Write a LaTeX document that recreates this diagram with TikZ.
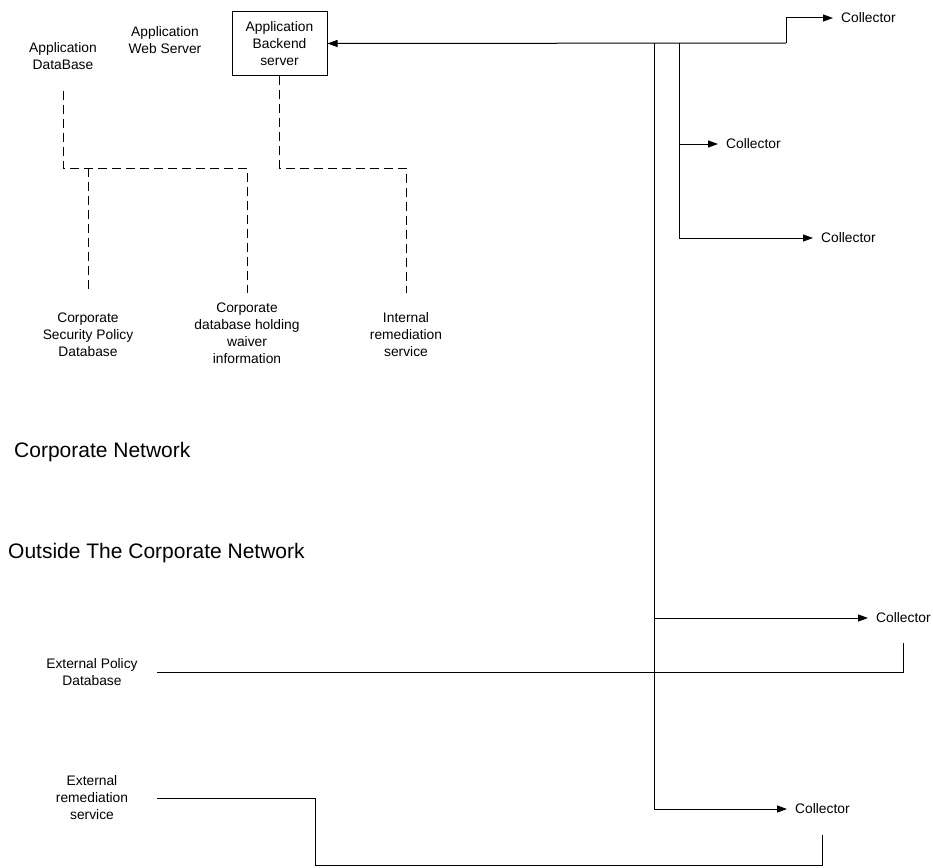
\documentclass[tikz,border=0pt]{standalone}
\usepackage{fontspec}
\setmainfont{Liberation Sans}
\usetikzlibrary{arrows.meta}

\begin{document}
\begin{tikzpicture}[x=1pt,y=-1pt,
  lbl/.style={align=center,inner sep=0pt,font=\fontsize{13.8}{17}\selectfont},
  col/.style={lbl,anchor=west},
  zone/.style={anchor=west,inner sep=0pt,font=\fontsize{21}{25}\selectfont},
  link/.style={line width=1pt},
  dblink/.style={link,dash pattern=on 9pt off 5pt},
  feed/.style={link,-{Triangle[length=10pt,width=7pt]}},
  tocol/.style={feed,shorten >=8pt}]
\useasboundingbox (0,0) rectangle (933,867);
% corporate side
\node[lbl] at (63,56) (appdb) {Application\\DataBase};
\node[lbl] at (165,40) (websrv) {Application\\Web Server};
\node[lbl,draw,line width=1pt,minimum width=95pt,minimum height=64pt] at (279.5,43.5) (backend) {Application\\Backend\\server};
\node[lbl] at (88,335) (secdb) {Corporate\\Security Policy\\Database};
\node[lbl] at (247,333) (waiver) {Corporate\\database holding\\waiver\\information};
\node[lbl] at (406,335) (intrem) {Internal\\remediation\\service};
\node[zone] at (14,452) (corpnet) {Corporate Network};
\node[zone] at (8,553) (outside) {Outside The Corporate Network};
% outside
\node[lbl] at (92,672) (extpol) {External Policy\\Database};
\node[lbl] at (92,798) (extrem) {External\\remediation\\service};
% collectors
\node[col] at (841,18) (c1) {Collector};
\node[col] at (726,144) (c2) {Collector};
\node[col] at (821,238) (c3) {Collector};
\node[col] at (876,618) (c4) {Collector};
\node[col] at (795,809) (c5) {Collector};
\coordinate (fork) at (0,168);
\coordinate (busA) at (654,43);
\coordinate (busB) at (679,43);
\coordinate (ne) at (786,43);
\coordinate (lstart) at (157,0);
\coordinate (drop) at (315,865);
% dashed links
\draw[dblink,shorten <=21pt,shorten >=9pt] (appdb.south) -- (appdb.south |- fork) -| (waiver.north);
\draw[dblink,shorten >=20pt] (secdb.north |- fork) -- (secdb.north);
\draw[dblink,shorten >=20pt] (backend.south) -- (backend.south |- fork) -| (intrem.north);
% collector bus
\draw[feed] (ne) -- (backend.east);
\draw[tocol] (ne) |- (c1.west);
\draw[tocol] (busB) |- (c3.west);
\draw[tocol] (busB |- c2.west) -- (c2.west);
\draw[tocol] (busA) |- (c5.west);
\draw[tocol] (busA |- c4.west) -- (c4.west);
\draw[link,shorten >=20pt] (extpol -| lstart) -| (c4.south);
\draw[link,shorten >=21pt] (extrem -| lstart) -| (drop) -| (c5.south);
\end{tikzpicture}
\end{document}
